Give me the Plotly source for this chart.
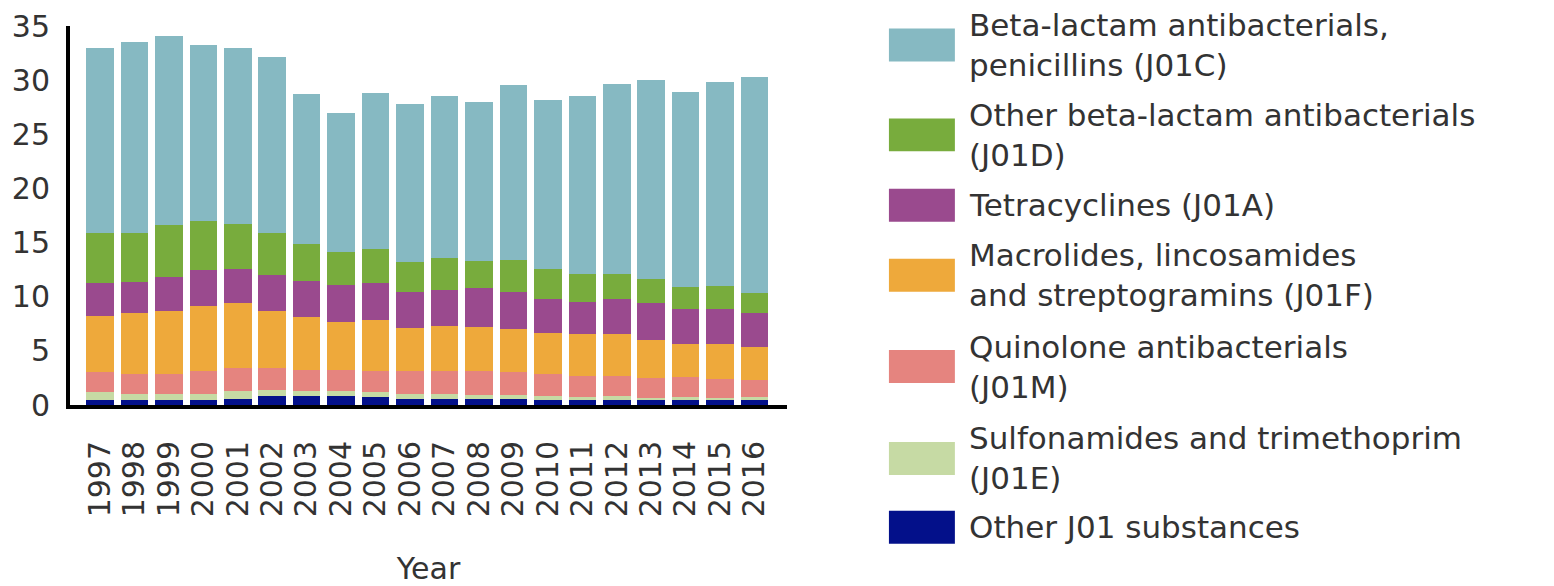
import plotly.graph_objects as go

years = [str(y) for y in range(1997, 2017)]

# DDD per 1000 inhabitants per day, by ATC group
other_j01 = [0.44, 0.44, 0.44, 0.44, 0.59, 0.84, 0.84, 0.84, 0.71, 0.59,
             0.59, 0.59, 0.59, 0.50, 0.44, 0.44, 0.44, 0.44, 0.44, 0.44]
sulfonamides = [0.76, 0.61, 0.58, 0.61, 0.67, 0.51, 0.42, 0.42, 0.49, 0.46,
                0.46, 0.37, 0.31, 0.34, 0.31, 0.36, 0.24, 0.31, 0.24, 0.31]
quinolones = [1.83, 1.82, 1.85, 2.07, 2.13, 2.04, 2.00, 2.00, 1.97, 2.12,
              2.12, 2.21, 2.18, 2.03, 1.97, 1.92, 1.83, 1.82, 1.74, 1.60]
macrolides = [5.22, 5.63, 5.77, 6.04, 6.02, 5.25, 4.87, 4.38, 4.72, 3.96,
              4.17, 4.01, 3.96, 3.80, 3.86, 3.86, 3.49, 3.04, 3.19, 3.01]
tetracyclines = [2.98, 2.88, 3.14, 3.28, 3.15, 3.37, 3.34, 3.44, 3.34, 3.28,
                 3.28, 3.59, 3.43, 3.13, 2.97, 3.19, 3.40, 3.28, 3.25, 3.14]
other_betalactam = [4.61, 4.55, 4.82, 4.56, 4.19, 3.83, 3.41, 3.03, 3.15, 2.79,
                    2.98, 2.52, 2.95, 2.73, 2.59, 2.37, 2.22, 1.98, 2.12, 1.87]
penicillins = [17.16, 17.57, 17.45, 16.26, 16.25, 16.26, 13.82, 12.89, 14.47, 14.60,
               14.95, 14.65, 16.10, 15.66, 16.41, 17.47, 18.35, 18.07, 18.87, 19.88]

# bottom of stack first
series_names = [
    "Other J01 substances",
    "Sulfonamides and trimethoprim<br>(J01E)",
    "Quinolone antibacterials<br>(J01M)",
    "Macrolides, lincosamides<br>and streptogramins (J01F)",
    "Tetracyclines (J01A)",
    "Other beta-lactam antibacterials<br>(J01D)",
    "Beta-lactam antibacterials,<br>penicillins (J01C)",
]
series_values = [other_j01, sulfonamides, quinolones, macrolides,
                 tetracyclines, other_betalactam, penicillins]
series_colors = ["#03108A", "#C6DAA4", "#E5847F", "#EEA93B",
                 "#9A4A8E", "#78AC3D", "#86B9C2"]

FONT = "DejaVu Sans"
TXT = "#333333"

OFF = 8  # page body margin
W, H = 1554 - OFF, 586 - OFF
ML = 69.5 - OFF
MT = 26 - OFF
PLOT_RIGHT = 787 - OFF
PLOT_BOTTOM = 405.5 - OFF
MR = W - PLOT_RIGHT
MB = H - PLOT_BOTTOM
PW = W - ML - MR
PH = H - MT - MB


def px_x(px):
    return (px - OFF - ML) / PW


def px_y(py):
    return (PLOT_BOTTOM - (py - OFF)) / PH


fig = go.Figure()
for name, vals, col in zip(series_names, series_values, series_colors):
    fig.add_trace(go.Bar(
        x=years, y=vals, name=name.replace("<br>", " "),
        marker=dict(color=col, line=dict(width=0)),
        showlegend=False,
    ))

# custom legend (top entry first)
legend_centers = [45, 135, 205.5, 275.5, 367, 459, 528]
shapes = []
annotations = []
for i, (name, col) in enumerate(zip(series_names[::-1], series_colors[::-1])):
    cy = legend_centers[i]
    shapes.append(dict(
        type="rect", xref="paper", yref="paper",
        x0=px_x(889), x1=px_x(955), y0=px_y(cy + 16.5), y1=px_y(cy - 16.5),
        fillcolor=col, line=dict(width=0),
    ))
    annotations.append(dict(
        xref="paper", yref="paper", x=px_x(967), y=px_y(cy),
        xanchor="left", yanchor="middle", align="left",
        text=name, showarrow=False,
        font=dict(family=FONT, size=31, color=TXT),
    ))

fig.update_layout(
    width=W, height=H,
    margin=dict(l=ML, r=MR, t=MT, b=MB),
    barmode="stack", bargap=0.2,
    plot_bgcolor="white", paper_bgcolor="white",
    font=dict(family=FONT, color=TXT),
    shapes=shapes, annotations=annotations,
    showlegend=False,
)
fig.update_xaxes(
    type="category", range=[-0.87, 19.94],
    tickmode="array", tickvals=years, ticktext=years,
    showgrid=False, zeroline=False,
    showline=True, linewidth=4, linecolor="black",
    ticks="", tickangle=-90, ticklabelstandoff=20,
    tickfont=dict(family=FONT, size=30, color=TXT),
    title=dict(text="Year", font=dict(family=FONT, size=30, color=TXT), standoff=46),
    automargin=False,
)
fig.update_yaxes(
    range=[0, 35], dtick=5,
    showgrid=False, zeroline=False,
    showline=True, linewidth=4, linecolor="black",
    ticks="", ticklabelstandoff=10, ticklabeloverflow="allow",
    tickfont=dict(family=FONT, size=30, color=TXT),
    automargin=False,
)

fig.write_html("out.html")
